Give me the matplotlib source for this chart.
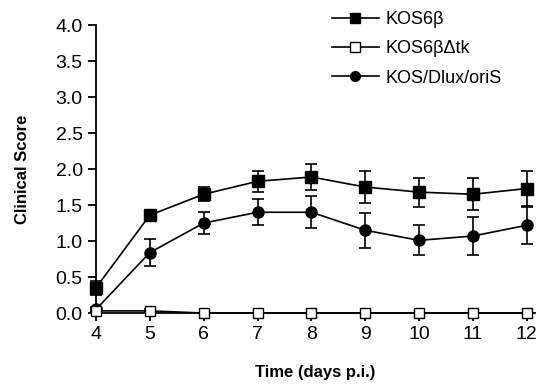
import numpy as np
import matplotlib
matplotlib.use('Agg')
import matplotlib.pyplot as plt
from matplotlib.lines import Line2D

plt.rcParams['font.family'] = ['Liberation Sans', 'DejaVu Sans']

days = [4, 5, 6, 7, 8, 9, 10, 11, 12]

kos6b = [0.35, 1.36, 1.65, 1.83, 1.89, 1.75, 1.68, 1.65, 1.73]
kos6b_err = [0.10, 0.04, 0.10, 0.15, 0.18, 0.22, 0.20, 0.22, 0.24]

kos6b_dtk = [0.03, 0.03, 0.0, 0.0, 0.0, 0.0, 0.0, 0.0, 0.0]
kos6b_dtk_err = [0.02, 0.02, 0.0, 0.0, 0.0, 0.0, 0.0, 0.0, 0.0]

kos_dlux = [0.05, 0.84, 1.25, 1.40, 1.40, 1.15, 1.01, 1.07, 1.22]
kos_dlux_err = [0.03, 0.19, 0.15, 0.18, 0.22, 0.24, 0.21, 0.27, 0.26]

fig = plt.figure(figsize=(5.42, 3.86), dpi=100)
ax = fig.add_axes([0.177, 0.189, 0.81, 0.746])

common = dict(color='black', lw=1.2, capsize=4, elinewidth=1.2, capthick=1.2, clip_on=False)
ax.errorbar(days, kos6b, yerr=kos6b_err, marker='s', ms=8, mfc='black', zorder=3, **common)
ax.errorbar(days, kos6b_dtk, yerr=kos6b_dtk_err, marker='s', ms=7, mfc='white', zorder=4, **common)
ax.errorbar(days, kos_dlux, yerr=kos_dlux_err, marker='o', ms=8, mfc='black', zorder=3, **common)

ax.set_xlim(4, 12.15)
ax.set_ylim(0, 4)
ax.set_xticks(days)
ax.set_yticks(np.arange(0, 4.01, 0.5))
ax.set_yticklabels(['%.1f' % v for v in np.arange(0, 4.01, 0.5)])
ax.spines['top'].set_visible(False)
ax.spines['right'].set_visible(False)
ax.spines['left'].set_linewidth(1.3)
ax.spines['bottom'].set_linewidth(1.3)
ax.tick_params(direction='out', length=6, width=1.3, labelsize=14)

ax.set_xlabel('Time (days p.i.)', fontsize=12, fontweight='bold', labelpad=16)
ax.set_ylabel('Clinical Score', fontsize=12, fontweight='bold', labelpad=18)

handles = [
    Line2D([], [], color='black', lw=1.2, marker='s', ms=7, mfc='black'),
    Line2D([], [], color='black', lw=1.2, marker='s', ms=7, mfc='white'),
    Line2D([], [], color='black', lw=1.2, marker='o', ms=7, mfc='black'),
]
labels = ['KOS6β', 'KOS6βΔtk', 'KOS/Dlux/oriS']
ax.legend(handles, labels, loc='upper left', bbox_to_anchor=(0.5, 1.105), frameon=False,
          fontsize=13, handlelength=2.6, handletextpad=0.4, labelspacing=0.68)

fig.savefig('out.png', dpi=100)
